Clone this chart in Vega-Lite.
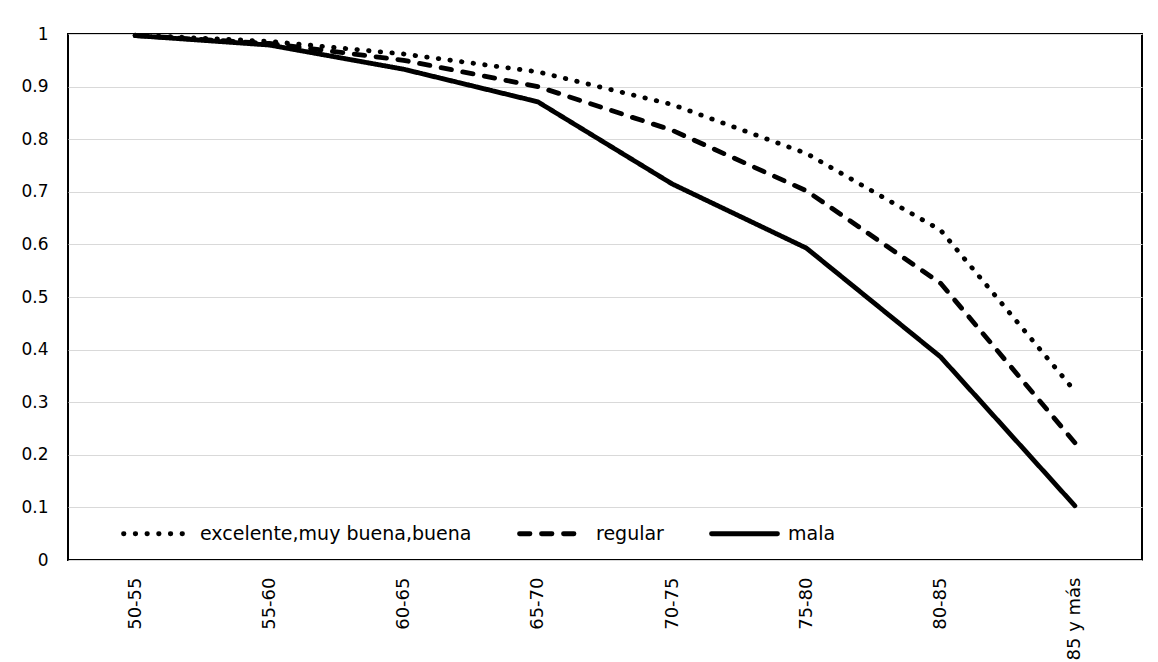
{
  "$schema": "https://vega.github.io/schema/vega-lite/v6.json",
  "width": 1074,
  "height": 526,
  "autosize": {"type": "none"},
  "padding": {"left": 68, "top": 34, "right": 16, "bottom": 102},
  "background": "white",
  "data": {
    "values": [
      {"edad": "50-55", "salud": "excelente,muy buena,buena", "valor": 0.998},
      {"edad": "55-60", "salud": "excelente,muy buena,buena", "valor": 0.986},
      {"edad": "60-65", "salud": "excelente,muy buena,buena", "valor": 0.962},
      {"edad": "65-70", "salud": "excelente,muy buena,buena", "valor": 0.928},
      {"edad": "70-75", "salud": "excelente,muy buena,buena", "valor": 0.866},
      {"edad": "75-80", "salud": "excelente,muy buena,buena", "valor": 0.773},
      {"edad": "80-85", "salud": "excelente,muy buena,buena", "valor": 0.627},
      {"edad": "85 y más", "salud": "excelente,muy buena,buena", "valor": 0.321},
      {"edad": "50-55", "salud": "regular", "valor": 0.997},
      {"edad": "55-60", "salud": "regular", "valor": 0.982},
      {"edad": "60-65", "salud": "regular", "valor": 0.950},
      {"edad": "65-70", "salud": "regular", "valor": 0.900},
      {"edad": "70-75", "salud": "regular", "valor": 0.817},
      {"edad": "75-80", "salud": "regular", "valor": 0.702},
      {"edad": "80-85", "salud": "regular", "valor": 0.526},
      {"edad": "85 y más", "salud": "regular", "valor": 0.223},
      {"edad": "50-55", "salud": "mala", "valor": 0.997},
      {"edad": "55-60", "salud": "mala", "valor": 0.979},
      {"edad": "60-65", "salud": "mala", "valor": 0.933},
      {"edad": "65-70", "salud": "mala", "valor": 0.871},
      {"edad": "70-75", "salud": "mala", "valor": 0.715},
      {"edad": "75-80", "salud": "mala", "valor": 0.593},
      {"edad": "80-85", "salud": "mala", "valor": 0.386},
      {"edad": "85 y más", "salud": "mala", "valor": 0.103}
    ]
  },
  "mark": {"type": "line", "color": "black", "strokeWidth": 4.8, "strokeCap": "round", "strokeJoin": "round", "clip": false},
  "encoding": {
    "x": {
      "field": "edad",
      "type": "ordinal",
      "sort": null,
      "scale": {"type": "point", "padding": 0.5},
      "axis": {
        "title": null,
        "labelAngle": -90,
        "labelFont": "DejaVu Sans",
        "labelFontSize": 18,
        "labelColor": "black",
        "labelPadding": 17,
        "ticks": false,
        "tickSize": 0,
        "domain": false,
        "grid": false
      }
    },
    "y": {
      "field": "valor",
      "type": "quantitative",
      "scale": {"domain": [0, 1], "nice": false, "zero": true},
      "axis": {
        "title": null,
        "values": [0, 0.1, 0.2, 0.3, 0.4, 0.5, 0.6, 0.7, 0.8, 0.9, 1],
        "format": ".1~f",
        "labelFont": "DejaVu Sans",
        "labelFontSize": 17,
        "labelColor": "black",
        "labelPadding": 20,
        "ticks": false,
        "tickSize": 0,
        "domain": false,
        "grid": true,
        "gridColor": "#d9d9d9",
        "gridWidth": 1.2
      }
    },
    "strokeDash": {
      "field": "salud",
      "type": "nominal",
      "scale": {
        "domain": ["excelente,muy buena,buena", "regular", "mala"],
        "range": [[0.5, 11.2], [10.5, 11.5], [1, 0]]
      },
      "legend": {
        "title": null,
        "orient": "none",
        "direction": "horizontal",
        "legendX": 53,
        "legendY": 464,
        "padding": 0,
        "symbolType": "stroke",
        "symbolSize": 4356,
        "symbolStrokeWidth": 4.8,
        "symbolStrokeColor": "black",
        "labelFont": "DejaVu Sans",
        "labelFontSize": 19,
        "labelColor": "black",
        "labelOffset": 8,
        "columnPadding": 37,
        "labelLimit": 400,
        "encode": {
          "symbols": {"update": {"strokeCap": {"value": "round"}}}
        }
      }
    }
  },
  "config": {
    "view": {"stroke": "black", "strokeWidth": 2}
  }
}
